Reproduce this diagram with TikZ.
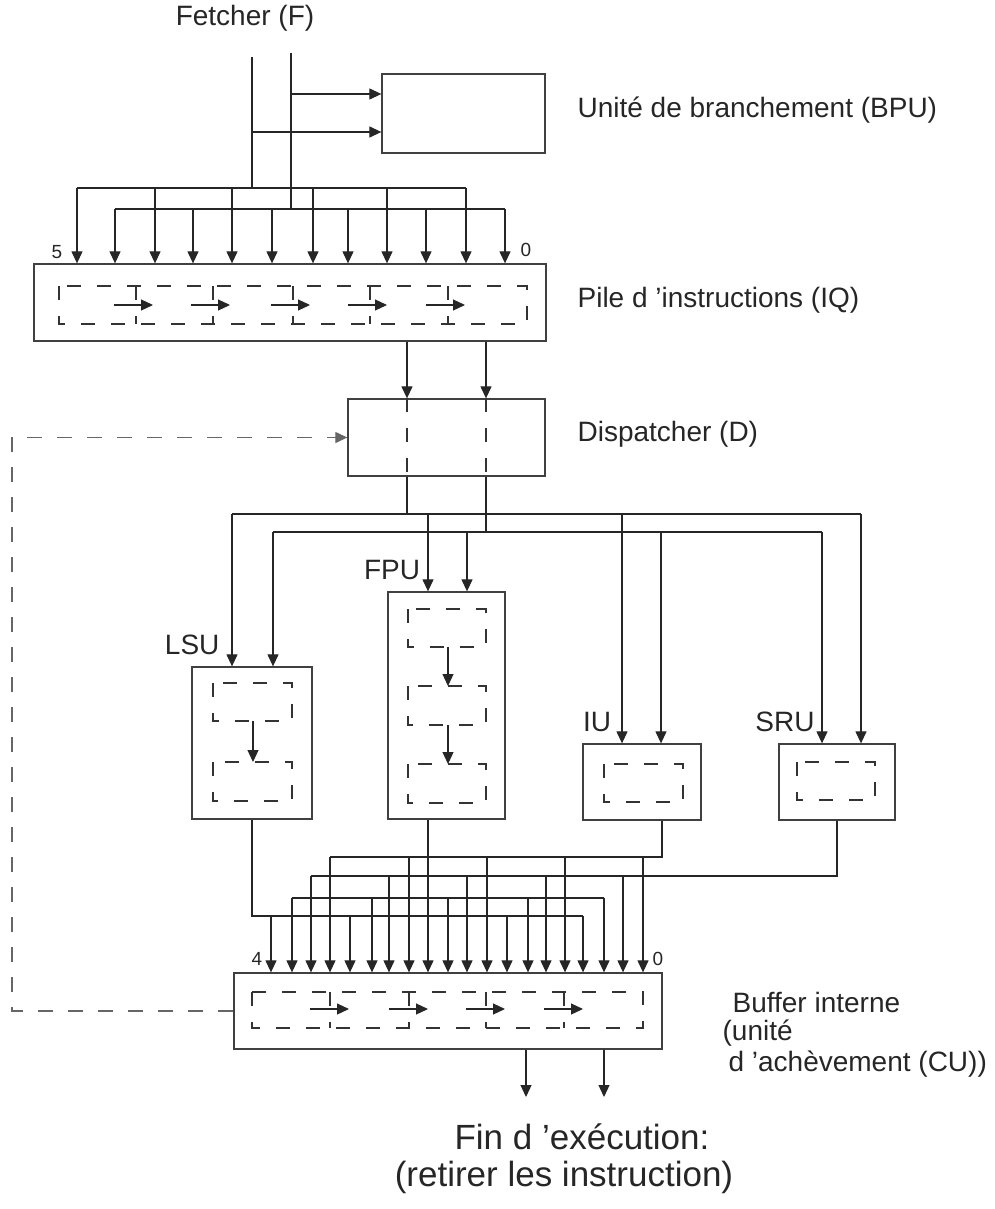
\documentclass[tikz,border=0pt]{standalone}
\usepackage{fontspec}
\setmainfont{Liberation Sans}
\usetikzlibrary{arrows.meta}

\tikzset{
  box/.style={draw=black!75, line width=1.3pt, inner sep=0pt},
  cell/.style={black!80, dash pattern=on 14pt off 16pt},
  fb/.style={black!60, dash pattern=on 15pt off 15pt},
  lbl/.style={inner sep=0pt, font=\fontsize{28}{33}\selectfont},
  num/.style={inner sep=0pt, font=\fontsize{19}{22}\selectfont},
  big/.style={inner sep=0pt, font=\fontsize{35}{41}\selectfont}
}

\begin{document}
\begin{tikzpicture}[x=1pt, y=-1pt, line width=1.2pt, black!85,
    >={Triangle[length=12pt,width=11pt]}]
  \useasboundingbox (0,0) rectangle (994,1209);

  % units
  \node[box, minimum width=163pt, minimum height=79pt]  (bpu) at (463.5,113.5) {};
  \node[box, minimum width=512pt, minimum height=77pt]  (iq)  at (290,302.5) {};
  \node[box, minimum width=197pt, minimum height=77pt]  (d)   at (446.5,437.5) {};
  \node[box, minimum width=120pt, minimum height=152pt] (lsu) at (252,743) {};
  \node[box, minimum width=117pt, minimum height=227pt] (fpu) at (446.5,705.5) {};
  \node[box, minimum width=118pt, minimum height=76pt]  (iu)  at (642,782) {};
  \node[box, minimum width=116pt, minimum height=76pt]  (sru) at (837,782) {};
  \node[box, minimum width=428pt, minimum height=76pt]  (buf) at (448,1011) {};

  % labels
  \node[lbl] (fetch) at (245,18) {Fetcher (F)};
  \node[lbl, anchor=west] (bpulbl) at (577,110) {Unité de branchement (BPU)};
  \node[lbl, anchor=west] (iqlbl) at (577,300) {Pile d ’instructions (IQ)};
  \node[lbl, anchor=west] (dlbl) at (577,434) {Dispatcher (D)};
  \node[lbl] (fpulbl) at (392,570) {FPU};
  \node[lbl, anchor=east] (lsulbl) at (220,645) {LSU};
  \node[lbl] (iulbl) at (597,722) {IU};
  \node[lbl] (srulbl) at (785,722) {SRU};
  \node[num] (iqhi) at (57,252) {5};
  \node[num] (iqlo) at (526,250) {0};
  \node[num] (bufhi) at (257,959) {4};
  \node[num] (buflo) at (658,959) {0};
  \node[lbl, anchor=west] (buflbl) at (732,1002) {Buffer interne};
  \node[lbl, anchor=west] (buflblb) at (722,1033) {(unité};
  \node[lbl, anchor=west] (buflblc) at (728,1064) {d ’achèvement (CU))};
  \node[big] (finlbl) at (582,1137) {Fin d ’exécution:};
  \node[big] (retlbl) at (564,1177) {(retirer les instruction)};

  % fetcher to BPU and IQ
  \coordinate (f1) at (252,57);
  \coordinate (f2) at (291,53);
  \draw (f1) -- (252,188);
  \draw (f2) -- (291,209);
  \draw[->] (291,94) -- (bpu.west |- 0,94);
  \draw[->] (252,132) -- (bpu.west |- 0,132);
  \draw (77,188) -- (466,188);
  \draw (115,209) -- (505,209);
  \foreach \x in {77,155,232,313,387,466}
    \draw[->] (\x,188) -- (\x,0 |- iq.north);
  \foreach \x in {115,193,272,348,426,505}
    \draw[->] (\x,209) -- (\x,0 |- iq.north);

  % queue cells
  \draw[cell] (59,286) rectangle (527,324);
  \foreach \x in {136,213,293,370,448}{
    \draw[cell] (\x,286) -- (\x,324);
    \draw[->] (\x-22,305) -- (\x+17,305);
  }

  % IQ to dispatcher
  \foreach \x in {407,486}{
    \draw[->] (\x,0 |- iq.south) -- (\x,0 |- d.north);
    \draw[cell] (\x,0 |- d.north) -- (\x,0 |- d.south);
  }
  \draw (407,0 |- d.south) -- (407,514);
  \draw (486,0 |- d.south) -- (486,532);
  \draw (232,514) -- (861,514);
  \draw (273,532) -- (822,532);
  \foreach \x/\u in {232/lsu,428/fpu,622/iu,861/sru}
    \draw[->] (\x,514) -- (\x,0 |- \u.north);
  \foreach \x/\u in {273/lsu,467/fpu,661/iu,822/sru}
    \draw[->] (\x,532) -- (\x,0 |- \u.north);

  % unit stages
  \draw[cell] (213,683) rectangle (292,721);
  \draw[cell] (213,762) rectangle (292,801);
  \draw[->] (253,721) -- (253,762);
  \draw[cell] (408,609) rectangle (486,647);
  \draw[cell] (408,686) rectangle (486,725);
  \draw[cell] (408,764) rectangle (486,803);
  \draw[->] (448,647) -- (448,686);
  \draw[->] (448,725) -- (448,764);
  \draw[cell] (604,764) rectangle (683,802);
  \draw[cell] (797,762) rectangle (875,800);

  % units to buffer
  \draw (lsu.south) -- (252,916) -- (583,916);
  \foreach \x in {271,350,507,583}
    \draw[->] (\x,916) -- (\x,0 |- buf.north);
  \draw[->] (428,0 |- fpu.south) -- (428,0 |- buf.north);
  \draw (292,898) -- (604,898);
  \foreach \x in {292,372,448,528,604}
    \draw[->] (\x,898) -- (\x,0 |- buf.north);
  \draw (sru.south) -- (837,876) -- (311,876);
  \foreach \x in {311,389,467,546,623}
    \draw[->] (\x,876) -- (\x,0 |- buf.north);
  \draw (662,0 |- iu.south) -- (662,857) -- (330,857);
  \foreach \x in {330,409,487,565,643}
    \draw[->] (\x,857) -- (\x,0 |- buf.north);

  % buffer cells
  \draw[cell] (252,992) rectangle (643,1028);
  \foreach \x in {330,409,486,564}{
    \draw[cell] (\x,992) -- (\x,1028);
    \draw[->] (\x-20,1009) -- (\x+19,1009);
  }

  % retire and feedback
  \draw[->] (526,0 |- buf.south) -- (526,1097);
  \draw[->] (604,0 |- buf.south) -- (604,1097);
  \draw[fb, ->] (buf.west) -- (12,1011) |- (d.west);
\end{tikzpicture}
\end{document}
